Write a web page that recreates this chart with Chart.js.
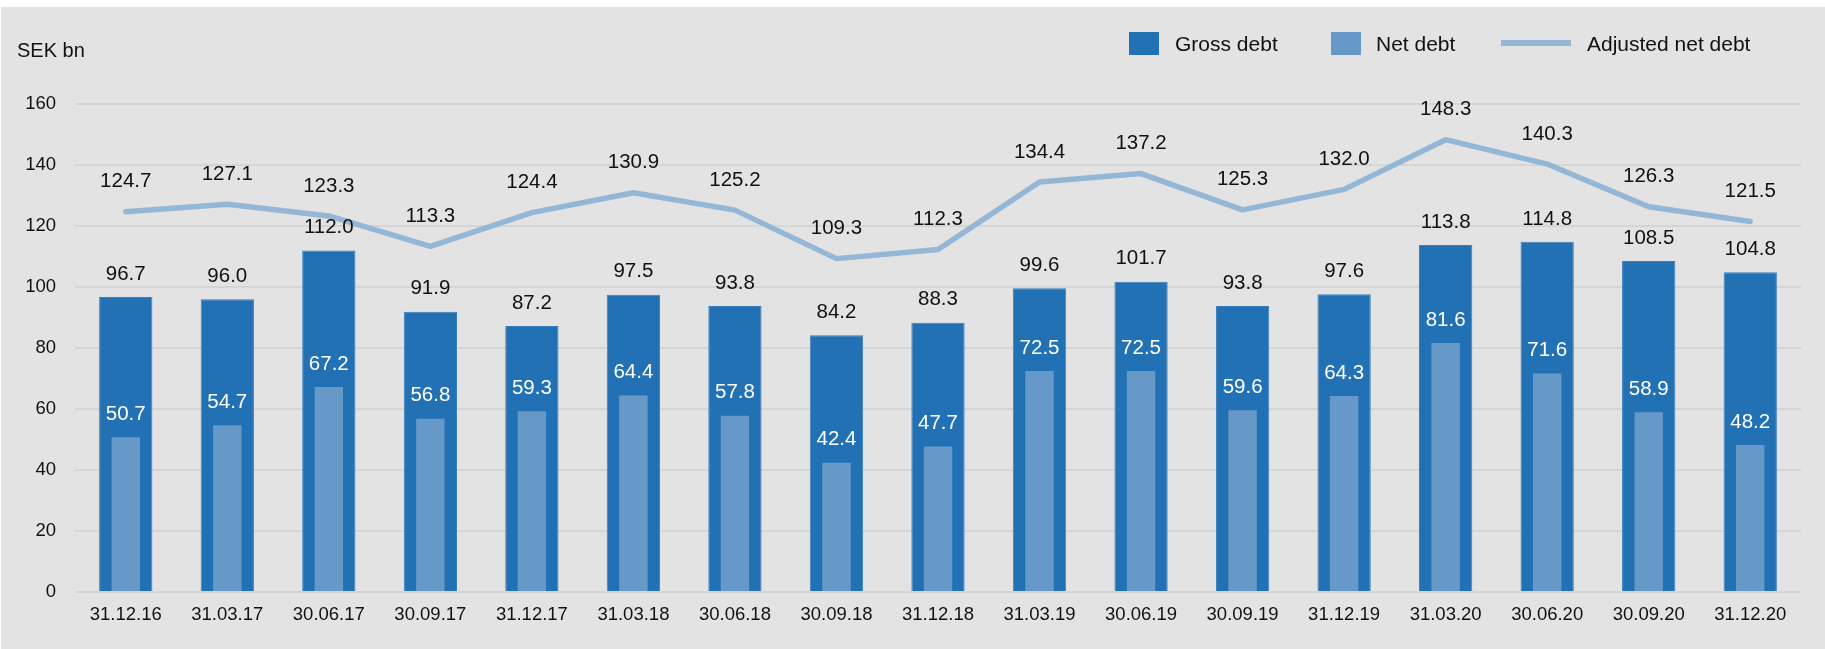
<!DOCTYPE html>
<html>
<head>
    <meta charset='utf-8'>
    <title>Debt</title>
    <script src="https://cdn.jsdelivr.net/npm/chart.js@4.4.1/dist/chart.umd.min.js"></script>
    <style>
        body { margin: 0; background: #ffffff; }
        #chart { position: absolute; left: 1px; top: 7px; background: #e3e3e3; }
    </style>
</head>
<body>
    <canvas id="chart" width="1824" height="642"></canvas>
    <script>
        var labels = ['31.12.16', '31.03.17', '30.06.17', '30.09.17', '31.12.17', '31.03.18', '30.06.18', '30.09.18', '31.12.18',
            '31.03.19', '30.06.19', '30.09.19', '31.12.19', '31.03.20', '30.06.20', '30.09.20', '31.12.20'];
        var grossDebt = [96.7, 96.0, 112.0, 91.9, 87.2, 97.5, 93.8, 84.2, 88.3, 99.6, 101.7, 93.8, 97.6, 113.8, 114.8, 108.5, 104.8];
        var netDebt = [50.7, 54.7, 67.2, 56.8, 59.3, 64.4, 57.8, 42.4, 47.7, 72.5, 72.5, 59.6, 64.3, 81.6, 71.6, 58.9, 48.2];
        var adjustedNetDebt = [124.7, 127.1, 123.3, 113.3, 124.4, 130.9, 125.2, 109.3, 112.3, 134.4, 137.2, 125.3, 132.0, 148.3, 140.3, 126.3, 121.5];
        var yTicks = [0, 20, 40, 60, 80, 100, 120, 140, 160];

        var FONT = '"Liberation Sans", Arial, sans-serif';
        var GROSS = '#2271b5';
        var NET = '#6699c8';
        var ADJ = '#94b7d6';

        // value labels, legend and unit text
        var decorations = {
            id: 'decorations',
            afterDatasetsDraw(chart) {
                var ctx = chart.ctx;
                ctx.save();
                ctx.textAlign = 'center';
                ctx.textBaseline = 'middle';
                ctx.font = '20.5px ' + FONT;
                ctx.fillStyle = '#111111';
                chart.getDatasetMeta(0).data.forEach(function (bar, i) {
                    ctx.fillText(grossDebt[i].toFixed(1), bar.x, bar.y - 23);
                });
                chart.getDatasetMeta(2).data.forEach(function (pt, i) {
                    ctx.fillText(adjustedNetDebt[i].toFixed(1), pt.x, pt.y - 30);
                });
                ctx.fillStyle = '#ffffff';
                chart.getDatasetMeta(1).data.forEach(function (bar, i) {
                    ctx.fillText(netDebt[i].toFixed(1), bar.x, bar.y - 23);
                });

                // unit
                ctx.textAlign = 'left';
                ctx.fillStyle = '#111111';
                ctx.font = '20px ' + FONT;
                ctx.fillText('SEK bn', 16, 44);

                // legend
                var items = [
                    { text: 'Gross debt', color: GROSS, box: 1128, tx: 1174, line: false },
                    { text: 'Net debt', color: NET, box: 1330, tx: 1375, line: false },
                    { text: 'Adjusted net debt', color: ADJ, box: 1500, tx: 1586, line: true }
                ];
                ctx.font = '21px ' + FONT;
                items.forEach(function (it) {
                    ctx.fillStyle = it.color;
                    if (it.line) {
                        ctx.fillRect(it.box, 33, 70, 6);
                    } else {
                        ctx.fillRect(it.box, 25, 30, 23);
                    }
                    ctx.fillStyle = '#111111';
                    ctx.fillText(it.text, it.tx, 38.5);
                });
                ctx.restore();
            }
        };

        var ctx = document.getElementById('chart').getContext('2d');
        var chart = new Chart(ctx, {
            type: 'bar',
            data: {
                labels: labels,
                datasets: [
                    {
                        label: 'Gross debt',
                        data: grossDebt,
                        backgroundColor: GROSS,
                        borderColor: '#3a80bd',
                        borderWidth: 1,
                        grouped: false,
                        barPercentage: 0.525,
                        categoryPercentage: 1,
                        order: 2
                    },
                    {
                        label: 'Net debt',
                        data: netDebt,
                        backgroundColor: NET,
                        grouped: false,
                        barPercentage: 0.28,
                        categoryPercentage: 1,
                        order: 1
                    },
                    {
                        type: 'line',
                        label: 'Adjusted net debt',
                        data: adjustedNetDebt,
                        borderColor: ADJ,
                        borderWidth: 5.5,
                        pointRadius: 0,
                        tension: 0,
                        borderCapStyle: 'round',
                        borderJoinStyle: 'round',
                        order: 0
                    }
                ]
            },
            options: {
                responsive: false,
                animation: false,
                layout: { padding: { top: 97, right: 24, left: 0, bottom: 0 } },
                plugins: {
                    legend: { display: false },
                    tooltip: { enabled: false }
                },
                scales: {
                    x: {
                        grid: { display: false, drawTicks: false },
                        border: { display: false },
                        ticks: { color: '#111111', font: { size: 18.5, family: FONT }, padding: 12, maxRotation: 0 },
                        afterFit: function (s) { s.height = 57; }
                    },
                    y: {
                        min: 0,
                        max: 160,
                        afterBuildTicks: function (s) { s.ticks = yTicks.map(function (v) { return { value: v }; }); },
                        grid: { color: '#d5d5d5', lineWidth: 2, drawTicks: false },
                        border: { display: false },
                        ticks: { color: '#111111', font: { size: 18.5, family: FONT }, padding: 19 },
                        afterFit: function (s) { s.width = 74; }
                    }
                }
            },
            plugins: [decorations]
        });
    </script>
</body>
</html>
